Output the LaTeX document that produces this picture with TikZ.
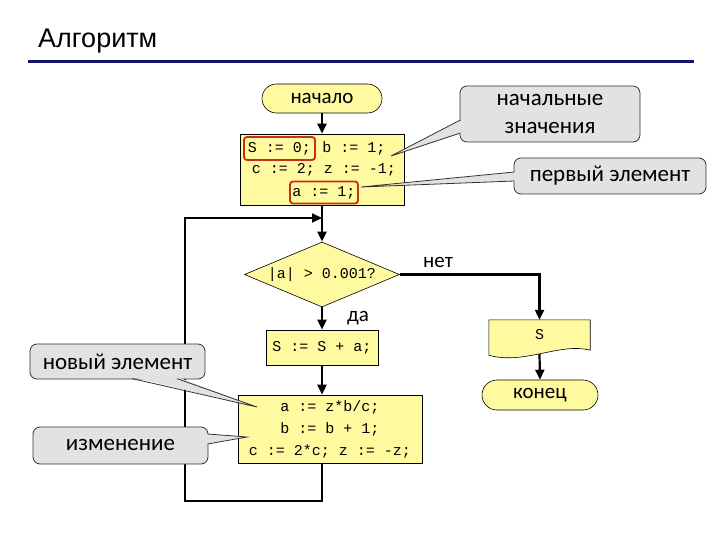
\documentclass[tikz,border=0pt]{standalone}
\usepackage{fontspec}
\setmainfont{Carlito}
\setmonofont{Liberation Mono}
\newfontfamily\titlefont{Liberation Sans}
\usetikzlibrary{arrows.meta,shapes.geometric,shapes.misc,calc}
\definecolor{yel}{RGB}{255,250,160}
\definecolor{cgray}{RGB}{226,226,226}
\definecolor{hlred}{RGB}{200,45,25}
\definecolor{navy}{RGB}{20,20,100}
\begin{document}
\begin{tikzpicture}[x=1pt,y=-1pt,
 blk/.style={draw=black,line width=0.6pt,fill=yel,inner sep=0pt},
 term/.style={blk,rounded rectangle,font=\fontsize{21}{21}\selectfont},
 code/.style={font=\ttfamily\fontsize{15}{22}\selectfont},
 hl/.style={draw=hlred,line width=1.8pt,rounded corners=3pt,inner sep=0pt},
 note/.style={draw=black!80,line width=0.8pt,fill=cgray,rounded corners=7pt,font=\fontsize{23}{28}\selectfont,align=center,inner sep=0pt},
 conn/.style={line width=2.2pt,-{Triangle[length=10pt,width=9pt]}},
 lbl/.style={font=\fontsize{21}{21}\selectfont},
 tailline/.style={draw=black!80,line width=0.8pt,line join=miter}
]
\useasboundingbox (0,0) rectangle (720,540);
\fill[white] (0,0) rectangle (720,540);

% title
\node[anchor=base west,inner sep=0pt,font=\titlefont\fontsize{27}{27}\selectfont] (title) at (38,48) {Алгоритм};
\draw[navy,line width=3pt] (28,62) -- (694,62);

% flowchart blocks
\node[term,minimum width=120pt,minimum height=29pt] (start) at (322,98.5) {начало};
\node[blk,minimum width=164pt,minimum height=71pt] (init) at (322,169.5) {};
\node[hl,code,minimum width=71pt,minimum height=23pt] (s0) at (279.5,148.5) {S := 0;};
\node[code,inner sep=0pt] (b1) at (354,148.5) {b := 1;};
\node[code,inner sep=0pt] (cz) at (324,170) {c := 2; z := -1;};
\node[hl,code,minimum width=68pt,minimum height=22pt] (a1) at (324,192.5) {a := 1;};

\node[blk,diamond,aspect=2.4,code,minimum width=155pt,minimum height=65pt] (cond) at (322,274.5) {|a| > 0.001?};
\node[blk,code,minimum width=112pt,minimum height=35pt] (sum) at (322,347.5) {S := S + a;};
\node[blk,code,align=center,minimum width=184pt,minimum height=68pt] (upd) at (330,429) {a := z*b/c;\\b := b + 1;\\c := 2*c; z := -z;};

\node[minimum width=101pt,minimum height=30pt,inner sep=0pt] (out) at (539.5,335) {};
\path[blk] (out.north west) -- (out.north east) -- (out.south east)
  .. controls ($(out.south east)+(-30,-8)$) and ($(out.south west)+(35,15)$) .. ($(out.south west)+(0,5)$) -- cycle;
\node[code,inner sep=0pt] (outtext) at (out.center) {S};
\coordinate (outb) at ($(out.south)+(0,4)$);
\node[term,minimum width=116pt,minimum height=30pt] (end) at (540,395) {конец};

% labels
\node[lbl] (no) at (438,262) {нет};
\node[lbl] (yes) at (358,318) {да};

% connectors
\coordinate (join) at (322,218);
\coordinate (lb) at (185,501);
\draw[conn] (start.south) -- (start.south |- init.north);
\draw[conn] (init.south) -- (cond.north);
\draw[conn] (cond.south) -- (sum.north);
\draw[conn] (sum.south) -- (sum.south |- upd.north);
\draw[conn] (upd.south -| sum.south) |- (lb) |- (join);
\draw[conn] (cond.east) -| (out.north);
\draw[conn] (outb) -- (end.north);

% callouts
\node[note,minimum width=180pt,minimum height=56pt] (nz) at (550,114) {начальные\\значения};
\coordinate (nzt) at (391,156);
\fill[cgray] (462,120) -- (nzt) -- (462,133) -- cycle;
\draw[tailline] (460.4,120) -- (nzt) -- (460.4,133);

\node[note,minimum width=192pt,minimum height=36pt] (pe) at (610,176) {первый элемент};
\coordinate (pet) at (361,187);
\fill[cgray] (516,172) -- (pet) -- (516,181) -- cycle;
\draw[tailline] (514.4,172) -- (pet) -- (514.4,181);

\node[note,minimum width=175pt,minimum height=35pt] (ne) at (117.5,361.5) {новый элемент};
\coordinate (net) at (257,407);
\fill[cgray] (132,377) -- (net) -- (177,377) -- cycle;
\draw[tailline] (132,378.6) -- (net) -- (177,378.6);

\node[note,minimum width=175pt,minimum height=37pt] (iz) at (120.5,445.5) {изменение};
\coordinate (izt) at (247,437);
\fill[cgray] (206,434) -- (izt) -- (206,444) -- cycle;
\draw[tailline] (207.6,434) -- (izt) -- (207.6,444);
\end{tikzpicture}
\end{document}
